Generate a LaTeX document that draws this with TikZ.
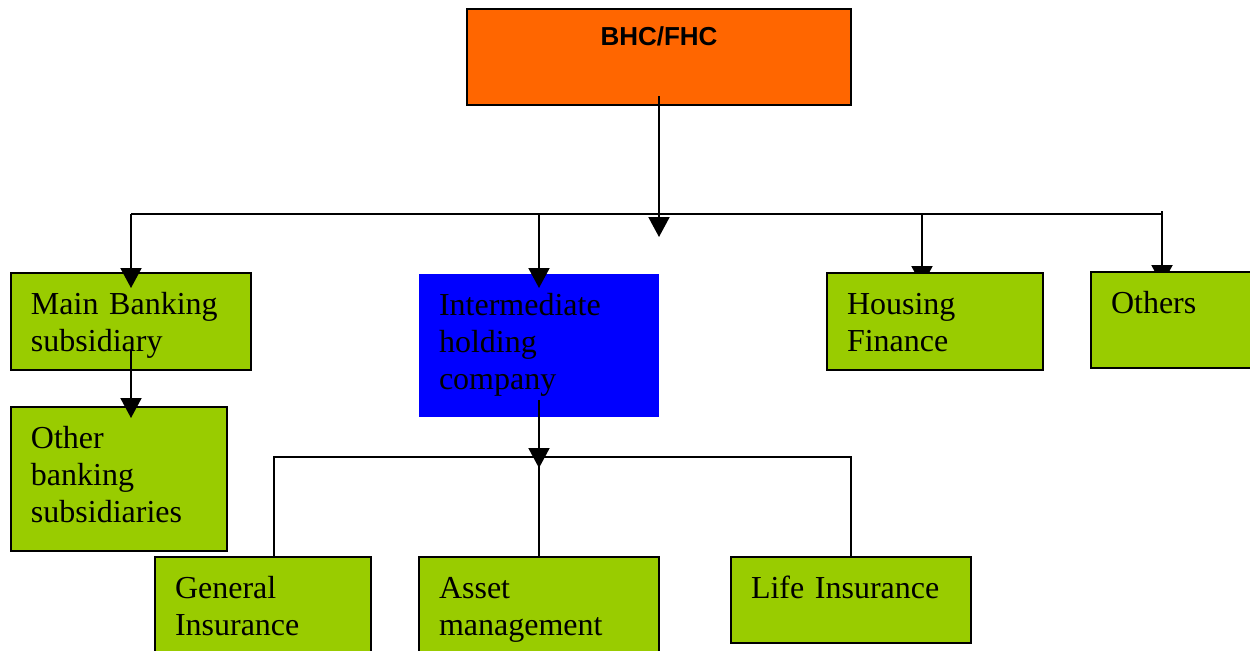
\documentclass[tikz,border=0pt]{standalone}
\usepackage{fontspec}
\setmainfont{Liberation Serif}
\newfontfamily\headfont{Liberation Sans}
\usetikzlibrary{arrows.meta,calc}
\pgfdeclarelayer{background}
\pgfsetlayers{background,main}
\definecolor{leaf}{RGB}{153,204,0}
\definecolor{flame}{RGB}{255,102,0}
\definecolor{royal}{RGB}{0,0,255}

\begin{document}
\begin{tikzpicture}[
                x=0.5pt, y=-0.5pt,
                unit/.style={draw, line width=1pt, fill=leaf, anchor=north west, align=left, font=\fontsize{16}{18.5}\selectfont, inner xsep=10pt, inner ysep=5pt, text height=15.5pt},
                holding/.style={unit, draw=none, fill=royal},
                headbox/.style={draw, line width=1pt, fill=flame, anchor=north west, align=center, font=\headfont\bfseries\fontsize{13}{15}\selectfont, inner xsep=0pt, inner ysep=5pt, text width=192pt, text height=13pt, text depth=25pt},
                wire/.style={line width=1pt},
                arrow/.style={-{Triangle[length=10pt,width=10.5pt]}, line width=1pt}
            ]

            \useasboundingbox (0,0) rectangle (1250,650);

            \node[headbox] (bhc) at (466,8) {BHC/FHC};

            \node[unit, text width=100pt, text depth=23pt] (mainbank) at (10,272) {Main Banking\\subsidiary};
            \node[holding, text width=100pt, text depth=46pt] (inter) at (418,273) {Intermediate\\holding\\company};
            \node[unit, text width=88pt, text depth=23pt] (housing) at (826,272) {Housing\\Finance};
            \node[unit, text width=65pt, text depth=22.5pt] (others) at (1090,271) {Others};

            \node[unit, text width=88pt, text depth=46.5pt] (otherbank) at (10,406) {Other\\banking\\subsidiaries};

            \node[unit, text width=88pt, text depth=29.5pt] (geninsur) at (154,556) {General\\Insurance};
            \node[unit, text width=100pt, text depth=29.5pt] (asset) at (418,556) {Asset\\management};
            \node[unit, text width=100pt, text depth=17.5pt] (life) at (730,556) {Life Insurance};

            \coordinate (bar) at ($(bhc.south)+(0,108)$);
            \coordinate (hub) at ($(bhc.south)+(0,131)$);
            \coordinate (bar2) at ($(inter.south)+(0,39)$);
            \coordinate (hub2) at ($(inter.south)+(0,50)$);
            \coordinate (hf) at ([xshift=48pt]housing.north west);
            \coordinate (ot) at ([xshift=36pt]others.north west);
            \coordinate (gi) at ([xshift=60pt]geninsur.north west);

            % first level
            \draw[arrow] ([yshift=5pt]bhc.south) -- (hub);
            \draw[wire] (bar -| mainbank.north) -- (bar -| ot);
            \draw[arrow] (bar -| mainbank.north) -- ([yshift=-8pt]mainbank.north);
            \draw[arrow] (bar -| inter.north) -- ([yshift=-7.5pt]inter.north);
            \begin{pgfonlayer}{background}
                \draw[arrow] (bar -| hf) -- ([yshift=-7pt]hf);
                \draw[arrow] ($(bar -| ot)+(0,-3)$) -- ([yshift=-7pt]ot);
            \end{pgfonlayer}
            \draw[arrow] ([yshift=10.5pt]mainbank.south) -- ($(mainbank.south |- otherbank.north)+(0,12)$);

            % second level
            \draw[arrow] ([yshift=9pt]inter.south) -- (hub2);
            \draw[wire] (gi) |- (bar2 -| life.north) -- (life.north);
            \draw[wire] (bar2) -- (bar2 |- asset.north);

        \end{tikzpicture}
\end{document}
